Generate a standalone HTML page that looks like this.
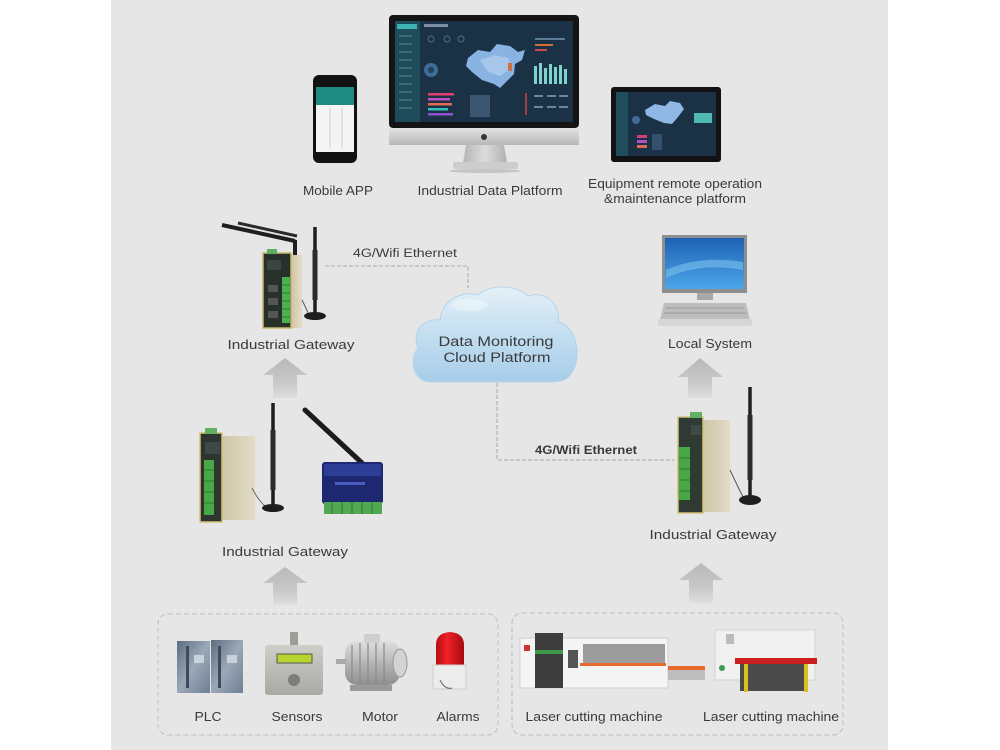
<!DOCTYPE html>
<html>
<head>
<meta charset="utf-8">
<style>
html,body{margin:0;padding:0;background:#fff;}
svg{display:block;}
text{font-family:"Liberation Sans",Arial,sans-serif;fill:#3a3a3a;}
</style>
</head>
<body>
<svg width="1000" height="750" viewBox="0 0 1000 750" xmlns="http://www.w3.org/2000/svg">
<defs>
  <linearGradient id="arrowG" x1="0" y1="0" x2="0" y2="1">
    <stop offset="0" stop-color="#b9b9b9"/>
    <stop offset="0.6" stop-color="#c8c8c8"/>
    <stop offset="1" stop-color="#dedede"/>
  </linearGradient>
  <linearGradient id="cloudG" x1="0" y1="288" x2="0" y2="382" gradientUnits="userSpaceOnUse">
    <stop offset="0" stop-color="#e4f0f8"/>
    <stop offset="0.5" stop-color="#c3def1"/>
    <stop offset="1" stop-color="#a7cde9"/>
  </linearGradient>
  <linearGradient id="chinG" x1="0" y1="0" x2="0" y2="1">
    <stop offset="0" stop-color="#e2e2e2"/>
    <stop offset="1" stop-color="#b8b8b8"/>
  </linearGradient>
  <linearGradient id="standG" x1="0" y1="0" x2="1" y2="0">
    <stop offset="0" stop-color="#b5b5b5"/>
    <stop offset="0.5" stop-color="#dcdcdc"/>
    <stop offset="1" stop-color="#b0b0b0"/>
  </linearGradient>
  <linearGradient id="pcScreen" x1="0" y1="0" x2="0" y2="1">
    <stop offset="0" stop-color="#1f62b5"/>
    <stop offset="1" stop-color="#4ca6e8"/>
  </linearGradient>
  <linearGradient id="beige" x1="0" y1="0" x2="1" y2="0">
    <stop offset="0" stop-color="#cfc5a6"/>
    <stop offset="1" stop-color="#e2dcc8"/>
  </linearGradient>
  <linearGradient id="plcG" x1="0" y1="0" x2="1" y2="1">
    <stop offset="0" stop-color="#5d6c80"/>
    <stop offset="0.5" stop-color="#9aa8b8"/>
    <stop offset="1" stop-color="#6f7e92"/>
  </linearGradient>
  <linearGradient id="sensG" x1="0" y1="0" x2="0" y2="1">
    <stop offset="0" stop-color="#cfcfca"/>
    <stop offset="1" stop-color="#a9a9a4"/>
  </linearGradient>
  <linearGradient id="motorG" x1="0" y1="0" x2="0" y2="1">
    <stop offset="0" stop-color="#e0e0e0"/>
    <stop offset="0.5" stop-color="#b5b5b5"/>
    <stop offset="1" stop-color="#8f8f8f"/>
  </linearGradient>
  <linearGradient id="redG" x1="0" y1="0" x2="1" y2="0">
    <stop offset="0" stop-color="#b50d12"/>
    <stop offset="0.4" stop-color="#ee2228"/>
    <stop offset="1" stop-color="#a80a0f"/>
  </linearGradient>
</defs>

<!-- panel background -->
<rect x="111" y="0" width="777" height="750" fill="#e6e6e6"/>

<!-- ===== iMac ===== -->
<rect x="389" y="15" width="190" height="113" rx="4" fill="#141414"/>
<rect x="395" y="21" width="178" height="101" fill="#1b3246"/>
<rect x="395" y="21" width="25" height="101" fill="#1e4c5a"/>
<rect x="397" y="24" width="20" height="5" fill="#3fb3b3"/>
<g stroke="#5a8a96" stroke-width="1">
  <line x1="399" y1="36" x2="412" y2="36"/><line x1="399" y1="44" x2="412" y2="44"/>
  <line x1="399" y1="52" x2="412" y2="52"/><line x1="399" y1="60" x2="412" y2="60"/>
  <line x1="399" y1="68" x2="412" y2="68"/><line x1="399" y1="76" x2="412" y2="76"/>
  <line x1="399" y1="84" x2="412" y2="84"/><line x1="399" y1="92" x2="412" y2="92"/>
  <line x1="399" y1="100" x2="412" y2="100"/><line x1="399" y1="108" x2="412" y2="108"/>
</g>
<rect x="424" y="24" width="24" height="3" fill="#7b8fa2"/>
<g fill="none" stroke="#4f6d86" stroke-width="1">
  <circle cx="431" cy="39" r="3"/><circle cx="447" cy="39" r="3"/><circle cx="461" cy="39" r="3"/>
</g>
<circle cx="431" cy="70" r="7" fill="#3e6d9a"/>
<circle cx="431" cy="70" r="3" fill="#24405a"/>
<rect x="428" y="93" width="26" height="2.5" fill="#e0406a"/>
<rect x="428" y="98" width="22" height="2.5" fill="#c04fc0"/>
<rect x="428" y="103" width="24" height="2.5" fill="#e06a50"/>
<rect x="428" y="108" width="20" height="2.5" fill="#30c0c0"/>
<rect x="428" y="113" width="25" height="2.5" fill="#9050d0"/>
<path d="M468 58 L478 50 L490 52 L497 44 L510 46 L518 52 L525 50 L522 60 L515 64 L514 74 L506 82 L500 88 L494 84 L482 80 L472 72 L466 66 Z" fill="#89b3e3"/>
<path d="M480 60 L495 55 L508 58 L512 68 L500 76 L488 72 Z" fill="#a6c6ea"/>
<rect x="508" y="63" width="4" height="8" fill="#d07040"/>
<rect x="470" y="95" width="20" height="22" fill="#3a5670"/>
<rect x="525" y="93" width="2" height="22" fill="#a04040"/>
<g fill="#7fd3cd">
  <rect x="534" y="66" width="3" height="18"/><rect x="539" y="63" width="3" height="21"/>
  <rect x="544" y="68" width="3" height="16"/><rect x="549" y="64" width="3" height="20"/>
  <rect x="554" y="67" width="3" height="17"/><rect x="559" y="65" width="3" height="19"/>
  <rect x="564" y="69" width="3" height="15"/>
</g>
<rect x="535" y="38" width="30" height="2" fill="#5c7d98"/>
<rect x="535" y="44" width="18" height="2" fill="#d56a3a"/>
<rect x="535" y="49" width="12" height="2" fill="#c94a4a"/>
<g fill="#6b869e"><rect x="534" y="95" width="9" height="2"/><rect x="547" y="95" width="9" height="2"/><rect x="559" y="95" width="9" height="2"/>
<rect x="534" y="106" width="9" height="2"/><rect x="547" y="106" width="9" height="2"/><rect x="559" y="106" width="9" height="2"/></g>
<rect x="389" y="128" width="190" height="17" fill="url(#chinG)"/>
<circle cx="484" cy="137" r="3" fill="#333"/>
<polygon points="466,145 504,145 507,163 463,163" fill="url(#standG)"/>
<rect x="453" y="162" width="65" height="7" rx="2" fill="#cdcdcd"/>
<ellipse cx="485" cy="171" rx="36" ry="2" fill="#c4c4c4"/>

<!-- ===== Phone ===== -->
<rect x="313" y="75" width="44" height="88" rx="6" fill="#121212"/>
<rect x="316" y="87" width="38" height="65" fill="#f4f4f4"/>
<rect x="316" y="87" width="38" height="18" fill="#1f8c82"/>
<g stroke="#cfcfcf" stroke-width="1">
  <line x1="330" y1="108" x2="330" y2="148"/><line x1="342" y1="108" x2="342" y2="148"/>
</g>

<!-- ===== Tablet ===== -->
<rect x="611" y="87" width="110" height="75" rx="3" fill="#121212"/>
<rect x="616" y="92" width="100" height="64" fill="#1b3145"/>
<rect x="616" y="92" width="12" height="64" fill="#1f4f5c"/>
<path d="M645 110 L655 104 L665 106 L670 101 L680 103 L684 109 L678 117 L672 124 L664 123 L654 119 L646 115 Z" fill="#8fb8e6"/>
<rect x="694" y="113" width="18" height="10" fill="#4fb8b0"/>
<rect x="637" y="135" width="10" height="3" fill="#d04070"/>
<rect x="637" y="140" width="10" height="3" fill="#b050c0"/>
<rect x="637" y="145" width="10" height="3" fill="#e06a50"/>
<circle cx="636" cy="120" r="4" fill="#3e6d9a"/>
<rect x="652" y="134" width="10" height="16" fill="#34506a"/>

<!-- top labels -->
<text x="338" y="195" font-size="12.5" text-anchor="middle" textLength="70" lengthAdjust="spacingAndGlyphs">Mobile APP</text>
<text x="490" y="195" font-size="12.5" text-anchor="middle" textLength="145" lengthAdjust="spacingAndGlyphs">Industrial Data Platform</text>
<text x="675" y="188" font-size="12.5" text-anchor="middle" textLength="174" lengthAdjust="spacingAndGlyphs">Equipment remote operation</text>
<text x="675" y="203" font-size="12.5" text-anchor="middle" textLength="142" lengthAdjust="spacingAndGlyphs">&amp;maintenance platform</text>

<!-- ===== Top-left gateway ===== -->
<line x1="222" y1="225" x2="295" y2="241" stroke="#1e1e1e" stroke-width="4"/>
<line x1="238" y1="223" x2="297" y2="236" stroke="#2a2a2a" stroke-width="3"/>
<line x1="295" y1="240" x2="295" y2="255" stroke="#1e1e1e" stroke-width="4"/>
<rect x="291" y="255" width="11" height="73" fill="url(#beige)"/>
<rect x="263" y="253" width="28" height="75" fill="#27302a" stroke="#c9b86a" stroke-width="1.5"/>
<rect x="267" y="249" width="10" height="5" fill="#5fae5f"/>
<rect x="267" y="260" width="14" height="10" fill="#3a4642"/>
<rect x="282" y="277" width="8" height="46" fill="#4caf50"/>
<g stroke="#2e7d32" stroke-width="1"><line x1="282" y1="285" x2="290" y2="285"/><line x1="282" y1="293" x2="290" y2="293"/><line x1="282" y1="301" x2="290" y2="301"/><line x1="282" y1="309" x2="290" y2="309"/><line x1="282" y1="317" x2="290" y2="317"/></g>
<rect x="268" y="285" width="10" height="7" fill="#555"/>
<rect x="268" y="298" width="10" height="7" fill="#555"/>
<rect x="268" y="311" width="10" height="7" fill="#555"/>
<path d="M302 300 Q306 308 308 313" stroke="#555" fill="none" stroke-width="1"/>
<line x1="315" y1="227" x2="315" y2="314" stroke="#1e1e1e" stroke-width="3.5"/>
<line x1="315" y1="250" x2="315" y2="300" stroke="#2b2b2b" stroke-width="5"/>
<ellipse cx="315" cy="316" rx="11" ry="4" fill="#1e1e1e"/>
<text x="291" y="349" font-size="12.5" text-anchor="middle" textLength="127" lengthAdjust="spacingAndGlyphs">Industrial Gateway</text>

<!-- 4G label & dashed line top -->
<text x="405" y="257" font-size="11.5" text-anchor="middle" textLength="104" lengthAdjust="spacingAndGlyphs">4G/Wifi Ethernet</text>
<path d="M325 266 H468 V288" fill="none" stroke="#a8a8a8" stroke-width="1" stroke-dasharray="4 2"/>

<!-- ===== Cloud ===== -->
<path d="M430 382 C414 382 408 360 418 348 C411 330 425 318 440 320 C442 300 462 290 478 295 C490 284 515 284 528 296 C545 290 562 305 558 322 C578 325 585 365 566 379 C560 382 552 382 545 382 Z" fill="url(#cloudG)" stroke="#b5d3e8" stroke-width="1"/>
<ellipse cx="470" cy="305" rx="18" ry="6" fill="#eef6fb" opacity="0.6"/>
<text x="496" y="346" font-size="13.5" text-anchor="middle" textLength="115" lengthAdjust="spacingAndGlyphs">Data Monitoring</text>
<text x="497" y="362" font-size="13.5" text-anchor="middle" textLength="107" lengthAdjust="spacingAndGlyphs">Cloud Platform</text>

<!-- dashed line bottom -->
<path d="M497 383 V460 H674" fill="none" stroke="#a8a8a8" stroke-width="1" stroke-dasharray="4 2"/>
<text x="586" y="454" font-size="11.5" font-weight="bold" text-anchor="middle" textLength="102" lengthAdjust="spacingAndGlyphs">4G/Wifi Ethernet</text>

<!-- ===== Local System PC ===== -->
<rect x="662" y="235" width="85" height="58" fill="#8e8e8e"/>
<rect x="665" y="238" width="79" height="51" fill="url(#pcScreen)"/>
<path d="M666 270 Q700 255 743 262 L743 270 Q700 262 666 278 Z" fill="#7cc2f0" opacity="0.6"/>
<rect x="697" y="293" width="16" height="7" fill="#a8a8a8"/>
<polygon points="664,303 746,303 750,320 660,320" fill="#bdbdbd"/>
<g stroke="#9a9a9a" stroke-width="1"><line x1="666" y1="308" x2="744" y2="308"/><line x1="664" y1="313" x2="746" y2="313"/></g>
<rect x="658" y="319" width="94" height="7" rx="2" fill="#d6d6d6"/>
<text x="710" y="348" font-size="12.5" text-anchor="middle" textLength="84" lengthAdjust="spacingAndGlyphs">Local System</text>

<!-- ===== Arrows ===== -->
<polygon points="285,358 307,375 297,375 297,398 273,398 273,375 263,375" fill="url(#arrowG)"/>
<polygon points="285,567 307,583 297,583 297,605 273,605 273,583 263,583" fill="url(#arrowG)"/>
<polygon points="700,358 723,377 712,377 712,398 688,398 688,377 678,377" fill="url(#arrowG)"/>
<polygon points="701,563 723,580 713,580 713,603 689,603 689,580 679,580" fill="url(#arrowG)"/>

<!-- ===== Middle-left gateways ===== -->
<rect x="222" y="436" width="33" height="84" fill="url(#beige)"/>
<rect x="200" y="433" width="22" height="89" fill="#2e3530" stroke="#d6c27a" stroke-width="1.5"/>
<rect x="205" y="428" width="12" height="6" fill="#62b162"/>
<rect x="205" y="442" width="15" height="12" fill="#3d4a48"/>
<rect x="204" y="460" width="10" height="55" fill="#48a848"/>
<g stroke="#2d7a30" stroke-width="1"><line x1="204" y1="470" x2="214" y2="470"/><line x1="204" y1="481" x2="214" y2="481"/><line x1="204" y1="492" x2="214" y2="492"/><line x1="204" y1="503" x2="214" y2="503"/></g>
<path d="M252 488 Q258 500 265 506" stroke="#666" fill="none" stroke-width="1"/>
<line x1="273" y1="403" x2="273" y2="506" stroke="#1e1e1e" stroke-width="3.5"/>
<line x1="273" y1="430" x2="273" y2="490" stroke="#2b2b2b" stroke-width="5"/>
<ellipse cx="273" cy="508" rx="11" ry="4" fill="#1e1e1e"/>
<line x1="305" y1="410" x2="362" y2="463" stroke="#1c1c1c" stroke-width="5" stroke-linecap="round"/>
<rect x="322" y="462" width="61" height="42" rx="3" fill="#1e2870"/>
<rect x="324" y="464" width="57" height="12" rx="2" fill="#2e3d96"/>
<rect x="335" y="482" width="30" height="3" fill="#4a5cc0"/>
<rect x="324" y="502" width="58" height="12" fill="#52a852"/>
<g stroke="#2f7a33" stroke-width="1"><line x1="332" y1="502" x2="332" y2="514"/><line x1="342" y1="502" x2="342" y2="514"/><line x1="352" y1="502" x2="352" y2="514"/><line x1="362" y1="502" x2="362" y2="514"/><line x1="372" y1="502" x2="372" y2="514"/></g>
<text x="285" y="556" font-size="12.5" text-anchor="middle" textLength="126" lengthAdjust="spacingAndGlyphs">Industrial Gateway</text>

<!-- ===== Right gateway ===== -->
<rect x="703" y="420" width="27" height="92" fill="url(#beige)"/>
<rect x="678" y="417" width="25" height="96" fill="#2f3a33" stroke="#d6c27a" stroke-width="1.5"/>
<rect x="690" y="412" width="12" height="6" fill="#62b162"/>
<rect x="691" y="425" width="10" height="10" fill="#3d4a48"/>
<rect x="679" y="447" width="11" height="53" fill="#48a848"/>
<g stroke="#2d7a30" stroke-width="1"><line x1="679" y1="458" x2="690" y2="458"/><line x1="679" y1="469" x2="690" y2="469"/><line x1="679" y1="480" x2="690" y2="480"/><line x1="679" y1="491" x2="690" y2="491"/></g>
<path d="M730 470 Q737 485 743 497" stroke="#555" fill="none" stroke-width="1"/>
<line x1="750" y1="387" x2="750" y2="498" stroke="#1e1e1e" stroke-width="3.5"/>
<line x1="750" y1="415" x2="750" y2="480" stroke="#2b2b2b" stroke-width="5"/>
<ellipse cx="750" cy="500" rx="11" ry="5" fill="#1e1e1e"/>
<text x="713" y="539" font-size="12.5" text-anchor="middle" textLength="127" lengthAdjust="spacingAndGlyphs">Industrial Gateway</text>

<!-- ===== Bottom-left dashed box ===== -->
<rect x="158" y="614" width="340" height="121" rx="10" fill="none" stroke="#bdbdbd" stroke-width="1" stroke-dasharray="5 3"/>
<!-- PLC -->
<rect x="177" y="641" width="33" height="52" fill="url(#plcG)"/>
<rect x="211" y="640" width="32" height="53" fill="url(#plcG)"/>
<rect x="186" y="646" width="3" height="42" fill="#3f4b5c"/>
<rect x="218" y="646" width="3" height="42" fill="#3f4b5c"/>
<rect x="194" y="655" width="10" height="8" fill="#c8d2dc"/>
<rect x="227" y="655" width="10" height="8" fill="#c8d2dc"/>
<!-- Sensors -->
<rect x="290" y="632" width="8" height="14" fill="#9c9c98"/>
<rect x="265" y="645" width="58" height="50" rx="3" fill="url(#sensG)"/>
<rect x="277" y="654" width="35" height="9" fill="#b6d42e" stroke="#555" stroke-width="1"/>
<circle cx="294" cy="680" r="6" fill="#7d7d7a"/>
<!-- Motor -->
<rect x="345" y="641" width="55" height="44" rx="12" fill="url(#motorG)"/>
<g stroke="#8a8a8a" stroke-width="1.2"><line x1="352" y1="645" x2="352" y2="682"/><line x1="360" y1="643" x2="360" y2="684"/><line x1="368" y1="643" x2="368" y2="684"/><line x1="376" y1="643" x2="376" y2="684"/><line x1="384" y1="643" x2="384" y2="684"/></g>
<rect x="364" y="634" width="16" height="9" rx="2" fill="#cfcfcf"/>
<ellipse cx="400" cy="663" rx="7" ry="14" fill="#d3d3d3" stroke="#999"/>
<rect x="336" y="659" width="10" height="5" fill="#aaa"/>
<rect x="350" y="685" width="42" height="6" fill="#9a9a9a"/>
<!-- Alarm -->
<path d="M436 665 L436 645 Q436 633 450 632 Q464 633 464 645 L464 665 Z" fill="url(#redG)"/>
<rect x="433" y="665" width="33" height="24" fill="#ececec" stroke="#cfcfcf"/>
<path d="M440 680 Q445 690 452 688" stroke="#666" fill="none" stroke-width="1"/>
<text x="208" y="721" font-size="12.5" text-anchor="middle" textLength="27" lengthAdjust="spacingAndGlyphs">PLC</text>
<text x="297" y="721" font-size="12.5" text-anchor="middle" textLength="51" lengthAdjust="spacingAndGlyphs">Sensors</text>
<text x="380" y="721" font-size="12.5" text-anchor="middle" textLength="36" lengthAdjust="spacingAndGlyphs">Motor</text>
<text x="458" y="721" font-size="12.5" text-anchor="middle" textLength="43" lengthAdjust="spacingAndGlyphs">Alarms</text>

<!-- ===== Bottom-right dashed box ===== -->
<rect x="512" y="613" width="331" height="122" rx="10" fill="none" stroke="#bdbdbd" stroke-width="1" stroke-dasharray="5 3"/>
<!-- Laser machine 1 -->
<rect x="520" y="638" width="148" height="50" fill="#f4f4f4" stroke="#cfcfcf"/>
<rect x="535" y="633" width="28" height="55" fill="#3d3d3d"/>
<rect x="535" y="650" width="28" height="4" fill="#3f9a4a"/>
<rect x="524" y="645" width="6" height="6" fill="#d03030"/>
<rect x="568" y="650" width="10" height="18" fill="#555"/>
<rect x="583" y="644" width="82" height="20" fill="#9c9c9c"/>
<rect x="580" y="663" width="86" height="3" fill="#e86a2a"/>
<rect x="668" y="666" width="37" height="4" fill="#e86a2a"/>
<rect x="668" y="670" width="37" height="10" fill="#bdbdbd"/>
<!-- Laser machine 2 -->
<rect x="715" y="630" width="100" height="50" fill="#f1f1f1" stroke="#d2d2d2"/>
<rect x="726" y="634" width="8" height="10" fill="#bbb"/>
<rect x="735" y="658" width="82" height="6" fill="#cc2020"/>
<rect x="740" y="664" width="66" height="27" fill="#4a4a4a"/>
<rect x="744" y="664" width="4" height="28" fill="#d8c020"/>
<rect x="804" y="664" width="4" height="28" fill="#d8c020"/>
<circle cx="722" cy="668" r="3" fill="#3a9a5a"/>
<text x="594" y="721" font-size="12.5" text-anchor="middle" textLength="137" lengthAdjust="spacingAndGlyphs">Laser cutting machine</text>
<text x="771" y="721" font-size="12.5" text-anchor="middle" textLength="136" lengthAdjust="spacingAndGlyphs">Laser cutting machine</text>
</svg>
</body>
</html>
